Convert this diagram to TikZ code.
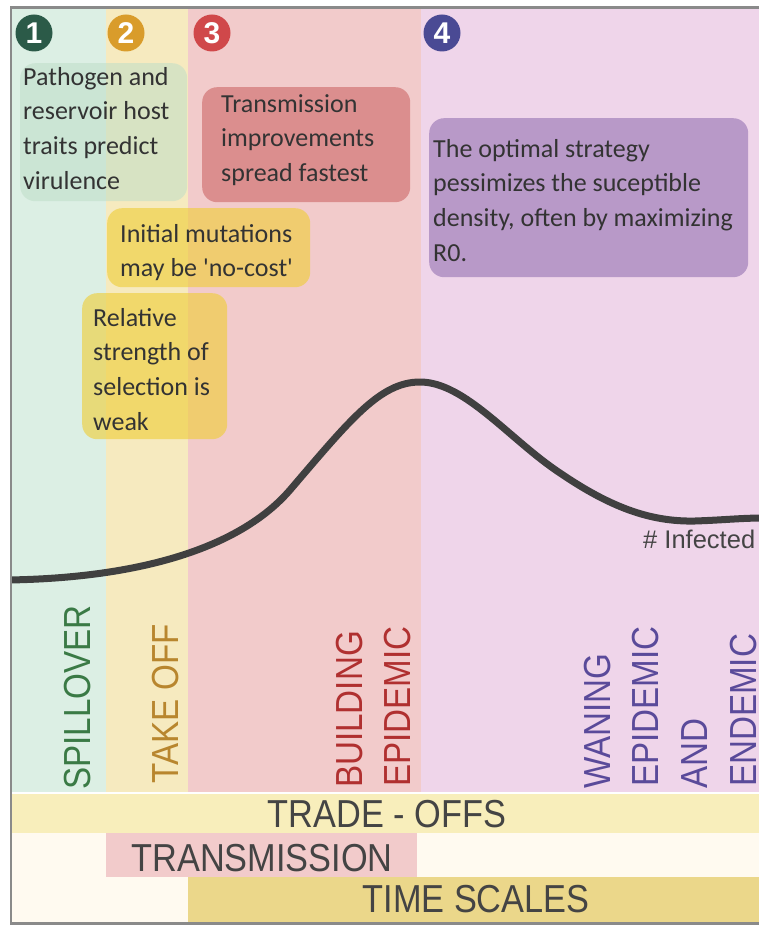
\documentclass[tikz,border=0pt]{standalone}
\usepackage{fontspec}
\setmainfont{Carlito}
\newfontfamily\labfont[FakeStretch=0.88]{Liberation Sans}
\newfontfamily\numfont{Liberation Sans}
\definecolor{colgreen}{HTML}{DCEFE4}
\definecolor{colyellow}{HTML}{F6EABF}
\definecolor{colpink}{HTML}{F2CBCB}
\definecolor{colpurple}{HTML}{EFD5EA}
\definecolor{tradeband}{HTML}{F8EEBB}
\definecolor{creambg}{HTML}{FFFAF0}
\definecolor{timegold}{HTML}{EBD78A}
\definecolor{framegray}{HTML}{8A8A8A}
\definecolor{boxgreen}{HTML}{BEDEC8}
\definecolor{boxred}{HTML}{DB8E8E}
\definecolor{boxpurple}{HTML}{B899C8}
\definecolor{boxyellow}{HTML}{EFCE38}
\definecolor{txtgray}{HTML}{333333}
\definecolor{labgray}{HTML}{444444}
\definecolor{labgreen}{HTML}{3A7A45}
\definecolor{labochre}{HTML}{B8862E}
\definecolor{labred}{HTML}{B03030}
\definecolor{labpurple}{HTML}{5A4A9A}
\definecolor{cone}{HTML}{2B5A48}
\definecolor{ctwo}{HTML}{D99C2B}
\definecolor{cthree}{HTML}{D0484A}
\definecolor{cfour}{HTML}{4A4A94}
\definecolor{curvegray}{HTML}{404040}
\begin{document}
\begin{tikzpicture}[x=1pt,y=-1pt,
  notebox/.style={rounded corners=15pt, inner sep=0, anchor=north west},
  boxtext/.style={anchor=north west, inner sep=0, align=left, text=txtgray,
    font=\fontsize{26}{34.7}\selectfont},
  vlabel/.style={rotate=90, anchor=base west, inner sep=0,
    font=\labfont\fontsize{37.7}{40}\selectfont},
  blabel/.style={anchor=base, inner sep=0, text=labgray,
    font=\labfont\fontsize{39}{42}\selectfont},
  numcirc/.style={circle, minimum size=37pt, inner sep=0, text=white,
    font=\numfont\bfseries\fontsize{30}{31}\selectfont},
  curve/.style={draw=curvegray, line width=7pt, line cap=round}]
\useasboundingbox (0,0) rectangle (759,925);
\fill[white] (0,0) rectangle (759,925);
% columns
\fill[colgreen] (12,9) rectangle (106,792);
\fill[colyellow] (106,9) rectangle (188,792);
\fill[colpink] (188,9) rectangle (421,792);
\fill[colpurple] (421,9) rectangle (759,792);
% bottom rows
\fill[tradeband] (12,794) rectangle (759,833);
\fill[creambg] (12,833) rectangle (759,922);
\fill[colpink] (106,833) rectangle (417,877);
\fill[timegold] (188,877) rectangle (759,922);
% number circles
\node[numcirc, fill=cone] (n1) at (34,33) {1};
\node[numcirc, fill=ctwo] (n2) at (126,33) {2};
\node[numcirc, fill=cthree] (n3) at (212,33) {3};
\node[numcirc, fill=cfour] (n4) at (442,33) {4};
% note boxes
\node[notebox, fill=boxgreen, fill opacity=0.55, minimum width=167pt, minimum height=138pt] (b1) at (20,63) {};
\node[notebox, fill=boxred, minimum width=208pt, minimum height=115pt] (b2) at (202,87) {};
\node[notebox, fill=boxpurple, minimum width=319pt, minimum height=159pt] (b3) at (429,118) {};
\node[notebox, fill=boxyellow, fill opacity=0.62, minimum width=203pt, minimum height=79pt] (b4) at (107,208) {};
\node[notebox, fill=boxyellow, fill opacity=0.62, minimum width=145pt, minimum height=146pt] (b5) at (82,293) {};
% note texts
\node[boxtext] (t1) at (23,65) {\rule{0pt}{20pt}Pathogen and\\reservoir host\\traits predict\\virulence};
\node[boxtext] (t2) at (221,92) {\rule{0pt}{20pt}Transmission\\improvements\\spread fastest};
\node[boxtext] (t3) at (433,137) {\rule{0pt}{20pt}The optimal strategy\\pessimizes the suceptible\\density, often by maximizing\\R0.};
\node[boxtext] (t4) at (120,222) {\rule{0pt}{20pt}Initial mutations\\may be \textquotesingle no-cost\textquotesingle};
\node[boxtext] (t5) at (93,306) {\rule{0pt}{20pt}Relative\\strength of\\selection is\\weak};
% curve
\begin{scope}
\clip (12,9) rectangle (759,792);
\draw[curve] (8,580) .. controls (140,578) and (240,548) .. (290,490)
  .. controls (350,420) and (380,382) .. (420,382)
  .. controls (465,382) and (510,440) .. (560,473)
  .. controls (610,507) and (650,522) .. (695,521)
  .. controls (725,520) and (740,518) .. (765,518);
\end{scope}
\node[anchor=base west, inner sep=0, text=labgray, font=\numfont\fontsize{25.5}{27}\selectfont] (inf) at (643,548) {\# Infected};
% vertical phase labels
\node[vlabel, text=labgreen] (l1) at (90,790) {SPILLOVER};
\node[vlabel, text=labochre] (l2) at (178,784) {TAKE OFF};
\node[vlabel, text=labred] (l3) at (362,788) {BUILDING};
\node[vlabel, text=labred] (l4) at (410,787) {EPIDEMIC};
\node[vlabel, text=labpurple] (l5) at (610,789) {WANING};
\node[vlabel, text=labpurple] (l6) at (658,787) {EPIDEMIC};
\node[vlabel, text=labpurple] (l7) at (707,789) {AND};
\node[vlabel, text=labpurple] (l8) at (756,787) {ENDEMIC};
% bottom labels
\node[blabel] (r1) at (387,827) {TRADE - OFFS};
\node[blabel] (r2) at (262,871) {TRANSMISSION};
\node[blabel] (r3) at (476,912) {TIME SCALES};
% frame
\draw[framegray, line width=2.5pt] (759,7.5) -- (11,7.5) -- (11,923.5) -- (759,923.5);
\end{tikzpicture}
\end{document}
